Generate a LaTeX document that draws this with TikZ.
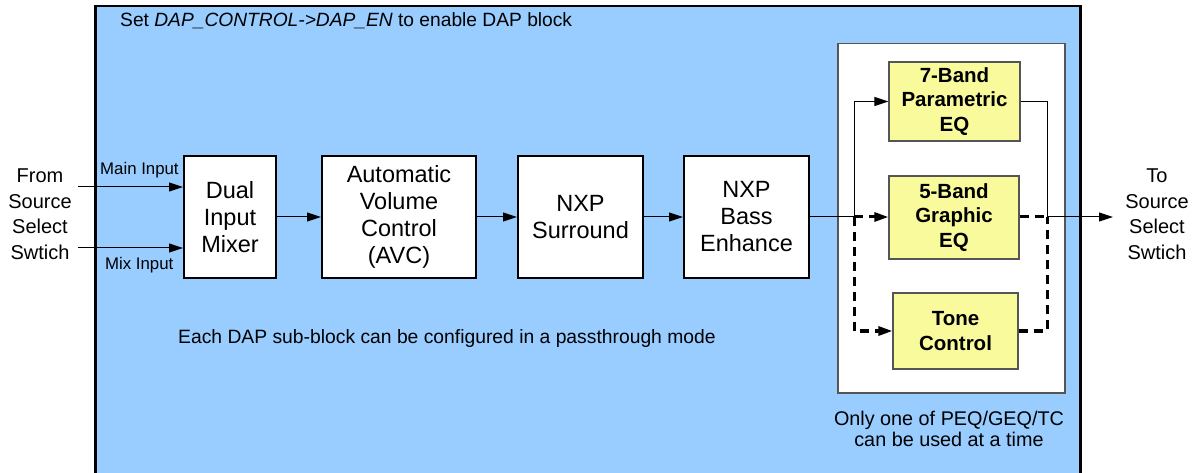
\documentclass[tikz,border=0pt]{standalone}
\usepackage{fontspec}
\setmainfont{Liberation Sans}
\usetikzlibrary{arrows.meta}
\definecolor{dapblue}{HTML}{99CCFF}
\definecolor{eqyellow}{HTML}{F8FA9C}
\definecolor{edgegray}{HTML}{555555}
\begin{document}
\begin{tikzpicture}[x=1pt,y=-1pt,
  blk/.style={draw=black,line width=2pt,fill=white,inner sep=0pt,align=center,
    minimum height=122pt,font=\fontsize{23.5}{27}\selectfont},
  eqblk/.style={draw=edgegray,line width=1.2pt,fill=eqyellow,inner sep=0pt,align=center,
    font=\fontsize{20.5}{24.5}\selectfont\bfseries},
  tip/.style={-{Triangle[length=14pt,width=9pt]}},
  conn/.style={line width=1pt},
  dconn/.style={line width=3pt,dash pattern=on 9pt off 6pt},
  lbl/.style={inner sep=0pt},
]
\useasboundingbox (0,0) rectangle (1195,473);
% DAP container
\node[draw=black,line width=2.5pt,fill=dapblue,anchor=north west,inner sep=0pt,
  minimum width=985pt,minimum height=490pt] (dap) at (94,5) {};
\node[lbl,anchor=base west,font=\fontsize{19.2}{22}\selectfont] (title) at (120,27)
  {Set \textit{DAP\_CONTROL->DAP\_EN} to enable DAP block};
% selector box
\node[draw=edgegray,line width=1.5pt,fill=white,anchor=north west,inner sep=0pt,
  minimum width=227pt,minimum height=349pt] (sel) at (837,43) {};
% main blocks
\node[blk,minimum width=92pt] (mix) at (230,217) {Dual\\Input\\Mixer};
\node[blk,minimum width=154pt] (avc) at (399,217) {Automatic\\Volume\\Control\\(AVC)};
\node[blk,minimum width=125pt] (sur) at (580.5,217) {NXP\\Surround};
\node[blk,minimum width=125pt] (bass) at (746.5,217) {NXP\\Bass\\Enhance};
% EQ blocks
\node[eqblk,minimum width=131pt,minimum height=79pt] (peq) at (954.5,101.5) {7-Band\\Parametric\\EQ};
\node[eqblk,minimum width=130pt,minimum height=83pt] (geq) at (954,217.5) {5-Band\\Graphic\\EQ};
\node[eqblk,minimum width=125pt,minimum height=76pt] (tc) at (955.5,331) {Tone\\Control};
% side texts
\node[lbl,align=center,font=\fontsize{20}{25.5}\selectfont] (src) at (40,214) {From\\Source\\Select\\Swtich};
\node[lbl,align=center,font=\fontsize{20}{25.5}\selectfont] (dst) at (1157,214) {To\\Source\\Select\\Swtich};
\node[lbl,anchor=base west,font=\fontsize{16.8}{19}\selectfont] (mainlbl) at (100,175) {Main Input};
\node[lbl,anchor=base west,font=\fontsize{16.8}{19}\selectfont] (mixlbl) at (105,270) {Mix Input};
\node[lbl,anchor=base west,font=\fontsize{19.3}{22}\selectfont] (note) at (178,343)
  {Each DAP sub-block can be configured in a passthrough mode};
\node[lbl,align=center,anchor=north,font=\fontsize{19.8}{21}\selectfont] (selnote) at (949,411)
  {Only one of PEQ/GEQ/TC\\can be used at a time};
% coordinates
\coordinate (inmain) at (78,187);
\coordinate (inmix) at (78,248);
\coordinate (jl) at (854,217);
\coordinate (jr) at (1047,217);
\coordinate (out) at (1113,217);
% connectors
\draw[conn,tip] (inmain) -- (mix.west |- inmain);
\draw[conn,tip] (inmix) -- (mix.west |- inmix);
\draw[conn,tip] (mix) -- (avc);
\draw[conn,tip] (avc) -- (sur);
\draw[conn,tip] (sur) -- (bass);
\draw[conn] (bass.east) -- (jl);
\draw[conn,tip] (jl) |- (peq.west);
\draw[dconn,tip] (jl) -- (jl -| geq.west);
\draw[dconn,tip] (jl) |- (tc.west);
\draw[conn] (peq.east) -| (jr);
\draw[dconn] (geq.east |- jr) -- (jr);
\draw[dconn] (tc.east) -| (jr);
\draw[conn,tip] (jr) -- (out);
\end{tikzpicture}
\end{document}
